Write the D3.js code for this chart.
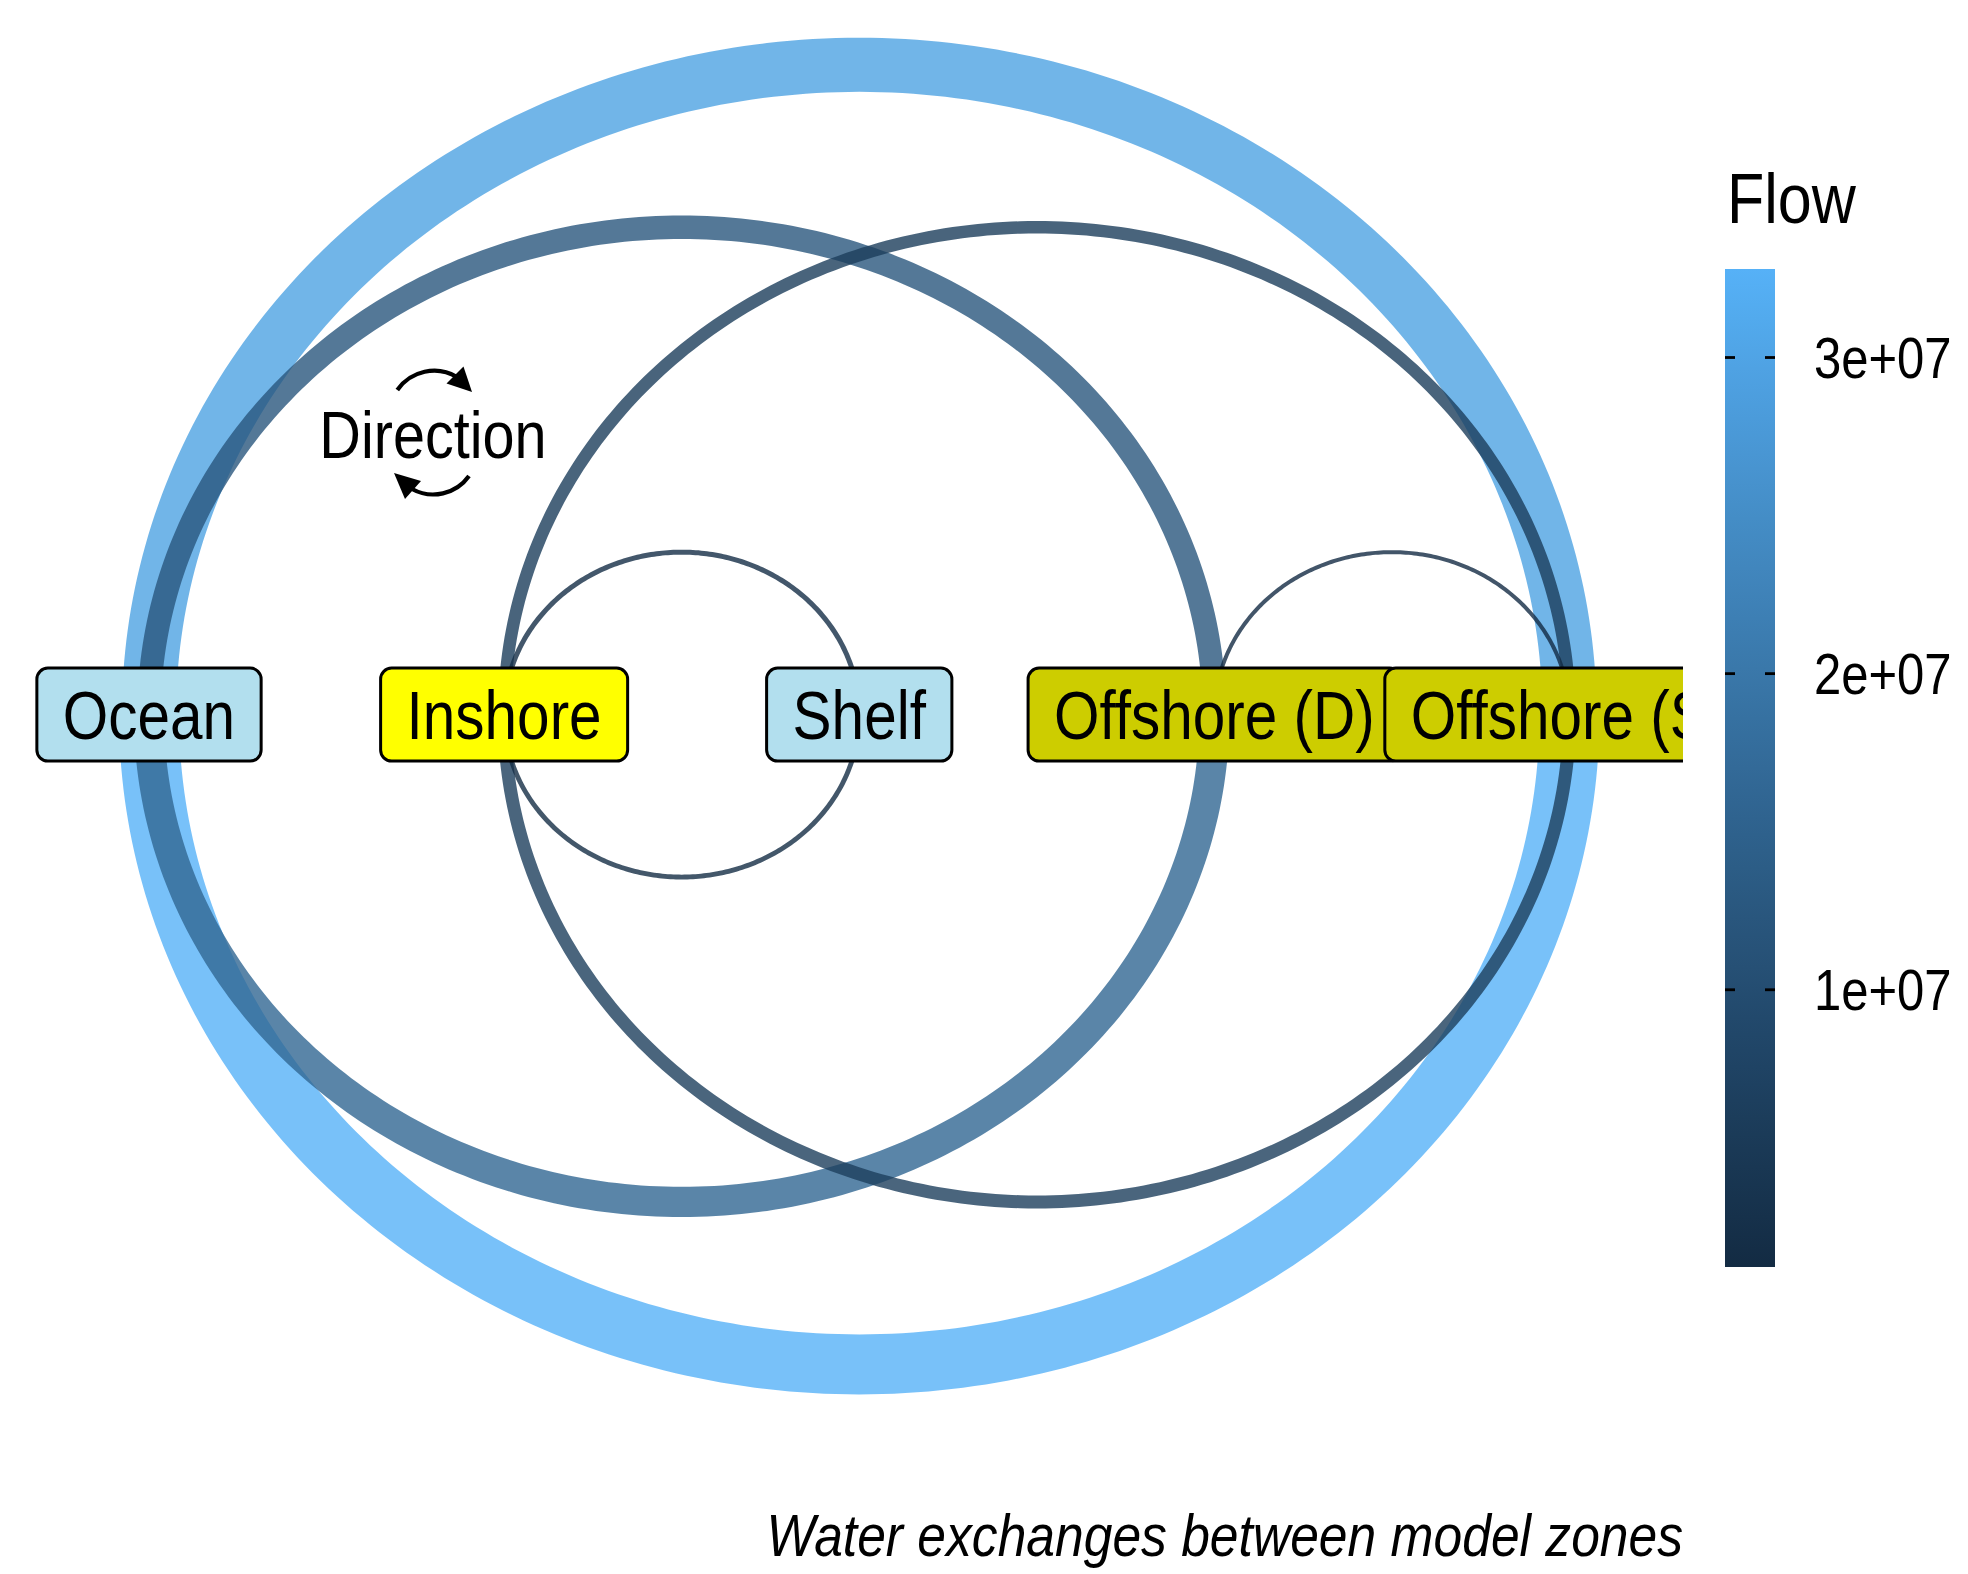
<!DOCTYPE html>
<html>
<head>
<meta charset="utf-8">
<script src="https://cdn.jsdelivr.net/npm/d3@7"></script>
<style>
  html, body { margin: 0; padding: 0; background: #ffffff; }
  svg { display: block; }
  text { font-family: "Liberation Sans", Arial, sans-serif; }
</style>
</head>
<body>
<svg id="chart" width="1968" height="1574"></svg>
<script>
// ---------------- data ----------------
const nodeNames = ["Ocean", "Inshore", "Shelf", "Offshore (D)", "Offshore (S)"];
const nodeFills = ["#B2DFEE", "#FFFF00", "#B2DFEE", "#CDCD00", "#CDCD00"];

// edges (index into nodeNames); from < to drawn above, from > to drawn below
const edgeFrom = [0, 0, 1, 1, 3, 4, 3, 4, 2];
const edgeTo   = [4, 3, 4, 2, 4, 0, 0, 1, 1];
const edgeFlow = [2.95e7, 1.22e7, 6.0e6, 1.8e6, 1.23e6, 3.28e7, 1.6e7, 6.3e6, 1.7e6];

const legendTicks = [1e7, 2e7, 3e7];
const legendTickLabels = ["1e+07", "2e+07", "3e+07"];

const legendTitle = "Flow";
const captionText = "Water exchanges between model zones";
const directionText = "Direction";

// ---------------- setup ----------------
const svg = d3.select("#chart");
const W = 1968, H = 1574;
const panelRight = 1683;
const SX = 0.86; // condensed text look

const x = d3.scaleLinear().domain([0, 4]).range([149, 1569.5]);
const y = d3.scaleLinear().domain([-2, 2]).range([1364.4, 64.8]);

const flowExtent = d3.extent(edgeFlow);
const color = d3.scaleLinear().domain(flowExtent).range(["#132B43", "#56B1F7"]).interpolate(d3.interpolateLab);
const width = d3.scaleLinear().domain(flowExtent).range([4, 60]);

const defs = svg.append("defs");
defs.append("clipPath").attr("id", "panelClip")
  .append("rect").attr("x", 0).attr("y", 0).attr("width", panelRight).attr("height", H);

const panel = svg.append("g").attr("clip-path", "url(#panelClip)");

function narrowText(parent, tx, ty, size, str, anchor, italic) {
  const t = parent.append("text")
    .attr("transform", `translate(${tx},${ty}) scale(${SX},1)`)
    .attr("x", 0).attr("y", 0)
    .attr("font-size", size)
    .attr("fill", "#000")
    .attr("text-anchor", anchor || "start")
    .text(str);
  if (italic) t.attr("font-style", "italic");
  return t;
}

// ---------------- edges ----------------
const edges = edgeFrom.map((f, i) => ({ from: f, to: edgeTo[i], flow: edgeFlow[i] }));
const line = d3.line().x(d => x(d[0])).y(d => y(d[1]));

function arcPoints(e) {
  const a = e.from, b = e.to;
  const cx = (a + b) / 2, r = Math.abs(b - a) / 2;
  const sign = a < b ? 1 : -1;
  const pts = [];
  const n = 200;
  for (let k = 0; k <= n; k++) {
    const t = Math.PI * k / n;
    pts.push([cx - r * Math.cos(t), sign * r * Math.sin(t)]);
  }
  return pts;
}

panel.append("g").selectAll("path")
  .data(edges)
  .join("path")
  .attr("d", d => line(arcPoints(d)))
  .attr("fill", "none")
  .attr("stroke", d => color(d.flow))
  .attr("stroke-opacity", 0.8)
  .attr("stroke-width", d => width(d.flow))
  .attr("stroke-linecap", "butt");

// ---------------- nodes ----------------
const labelFont = 68;
const nodeG = panel.append("g").selectAll("g")
  .data(nodeNames.map((n, i) => ({ name: n, i: i })))
  .join("g")
  .attr("transform", d => `translate(${x(d.i)},${y(0)})`);

nodeG.each(function(d) {
  const g = d3.select(this);
  const rect = g.append("rect");
  const t = narrowText(g, 0, labelFont * 0.36, labelFont, d.name, "middle");
  const tw = t.node().getComputedTextLength() * SX;
  const pad = 26, bh = 93;
  rect.attr("x", -tw / 2 - pad).attr("y", -bh / 2)
    .attr("width", tw + 2 * pad).attr("height", bh)
    .attr("rx", 11).attr("ry", 11)
    .attr("fill", nodeFills[d.i])
    .attr("stroke", "#000").attr("stroke-width", 3);
});

// ---------------- direction annotation ----------------
const dirX = 433, dirY = 435;
const dir = svg.append("g").attr("transform", `translate(${dirX},${dirY})`);
narrowText(dir, 0, 23, 67, directionText, "middle");

function arrowHead(tip, base, half) {
  const dx = tip[0] - base[0], dy = tip[1] - base[1];
  const L = Math.hypot(dx, dy);
  const px = -dy / L * half, py = dx / L * half;
  return `M${tip[0]},${tip[1]}L${base[0] + px},${base[1] + py}L${base[0] - px},${base[1] - py}Z`;
}
// top arrow (left -> right)
dir.append("path")
  .attr("d", `M${397.3 - dirX},${390 - dirY} A45,45 0 0 1 ${457 - dirX},${377 - dirY}`)
  .attr("fill", "none").attr("stroke", "#000").attr("stroke-width", 4.2);
dir.append("path")
  .attr("d", arrowHead([472 - dirX, 392 - dirY], [455 - dirX, 375 - dirY], 12))
  .attr("fill", "#000");
// bottom arrow (right -> left)
dir.append("path")
  .attr("d", `M${469 - dirX},${476 - dirY} A44,44 0 0 1 ${412 - dirX},${489 - dirY}`)
  .attr("fill", "none").attr("stroke", "#000").attr("stroke-width", 4.2);
dir.append("path")
  .attr("d", arrowHead([394 - dirX, 473 - dirY], [413 - dirX, 490 - dirY], 12))
  .attr("fill", "#000");

// ---------------- legend ----------------
const barX = 1725, barW = 50;
const ly = d3.scaleLinear().domain(flowExtent).range([1267, 269]);

const grad = defs.append("linearGradient")
  .attr("id", "flowGrad").attr("x1", 0).attr("y1", 1).attr("x2", 0).attr("y2", 0);
d3.range(0, 1.0001, 0.05).forEach(p => {
  grad.append("stop").attr("offset", p)
    .attr("stop-color", color(flowExtent[0] + p * (flowExtent[1] - flowExtent[0])));
});

narrowText(svg, 1727, 223, 71, legendTitle, "start");

svg.append("rect")
  .attr("x", barX).attr("y", ly(flowExtent[1]))
  .attr("width", barW).attr("height", ly(flowExtent[0]) - ly(flowExtent[1]))
  .attr("fill", "url(#flowGrad)");

const tickG = svg.append("g").selectAll("g")
  .data(legendTicks.map((v, i) => ({ v: v, label: legendTickLabels[i] })))
  .join("g")
  .attr("transform", d => `translate(0,${ly(d.v)})`);
tickG.append("line").attr("x1", barX).attr("x2", barX + 10)
  .attr("stroke", "#000").attr("stroke-width", 2.8);
tickG.append("line").attr("x1", barX + barW - 10).attr("x2", barX + barW)
  .attr("stroke", "#000").attr("stroke-width", 2.8);
tickG.each(function(d) {
  narrowText(d3.select(this), 1814, 20, 57, d.label, "start");
});

// ---------------- caption ----------------
narrowText(svg, panelRight, 1556, 60, captionText, "end", true);
</script>
</body>
</html>
